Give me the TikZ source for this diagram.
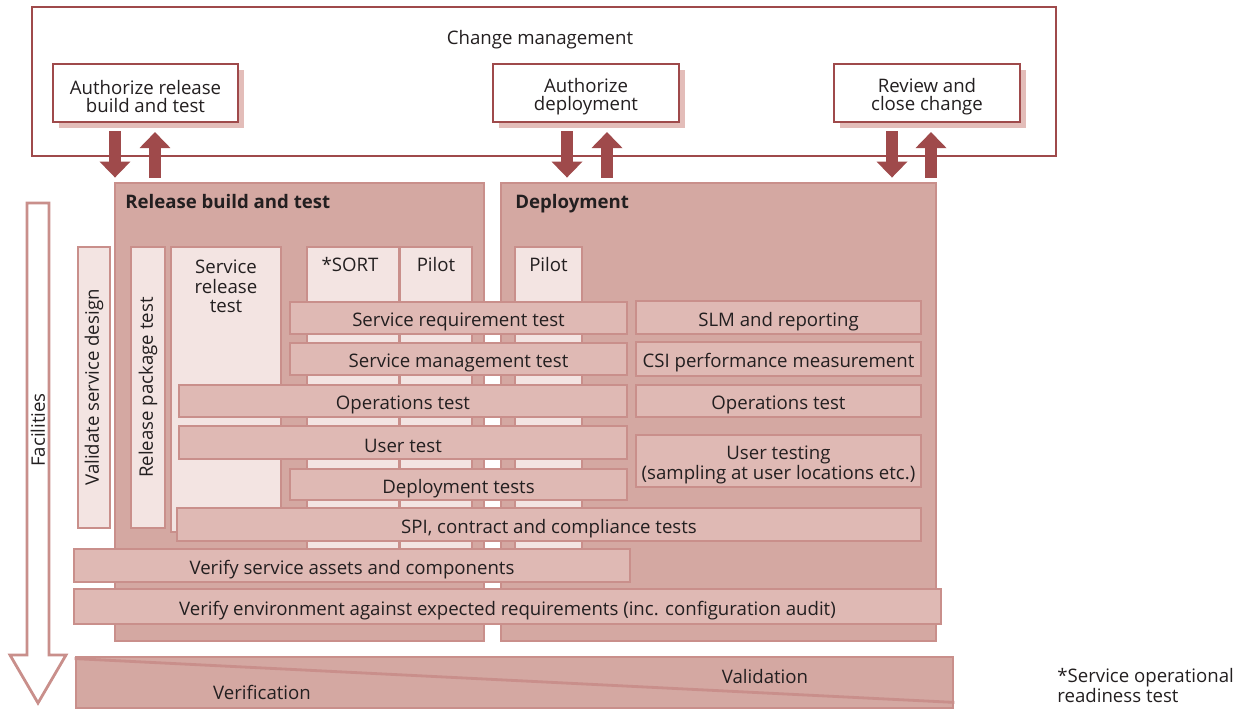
\documentclass[tikz,border=0pt]{standalone}
\usepackage{fontspec}
\setmainfont{Open Sans}
\usetikzlibrary{arrows.meta,calc,fit,shadows}
\definecolor{cmred}{HTML}{9F4A4B}
\definecolor{boxpink}{HTML}{D4A8A2}
\definecolor{edgepink}{HTML}{C98F8B}
\definecolor{barpink}{HTML}{DFB9B4}
\definecolor{lightpink}{HTML}{F3E4E2}
\definecolor{shadepink}{HTML}{E3BDB9}
\definecolor{inkgray}{HTML}{231F20}
\tikzset{
  every node/.style={font=\fontsize{10.6}{10.4}\selectfont, text=inkgray, inner sep=0pt},
  every label/.style={align=center, yshift=-0.075cm},
  changebox/.style={draw=cmred, line width=1.2pt, fill=white},
  stepbox/.style={draw=cmred, line width=1.2pt, fill=white,
    drop shadow={shadow xshift=0.11cm, shadow yshift=-0.13cm, fill=shadepink, opacity=1}},
  phasebox/.style={draw=edgepink, line width=1.6pt, fill=boxpink},
  column/.style={draw=edgepink, line width=1.6pt, fill=lightpink},
  testbar/.style={draw=edgepink, line width=1.6pt, fill=barpink},
  heading/.style={font=\fontsize{10.6}{10.4}\selectfont\bfseries, anchor=base west},
  bigarrow/.style={draw=cmred, line width=0.24cm, -{Triangle[width=0.6cm,length=0.32cm]}},
  facarrow/.style={draw=edgepink, line width=1.6pt, fill=white, line join=miter},
}

\begin{document}
\begin{tikzpicture}[x=0.02cm, y=-0.02cm]
\useasboundingbox (0,0) rectangle (1239,709);

% change management
\node[changebox, fit={(32,7) (1056,156)}] (cm) {};
\node[anchor=base] (cmtitle) at (540,45) {Change management};
\node[stepbox, fit={(53,64) (238,122)}, label=center:{Authorize release\\build and test}] (arbt) {};
\node[stepbox, fit={(493,64) (679,122)}, label=center:{Authorize\\deployment}] (adep) {};
\node[stepbox, fit={(834,64) (1020,122)}, label=center:{Review and\\close change}] (rcc) {};

% facilities
\draw[facarrow] (27,203) -- (49,203) -- (49,655) -- (66,655) -- (38,703) -- (10,655) -- (27,655) -- cycle;
\node[rotate=90] (fac) at (38,430) {Facilities};

% phases
\node[phasebox, fit={(115,183) (484,641)}] (rbt) {};
\node[phasebox, fit={(501,183) (936,641)}] (dep) {};
\node[heading] (rbttitle) at (125,209) {Release build and test};
\node[heading] (deptitle) at (515,209) {Deployment};

% arrows to and from change management
\draw[bigarrow] ($(arbt.south -| 115,0)+(0,8)$) -- ($(rbt.north -| 115,0)+(0,-4)$);
\draw[bigarrow] ($(rbt.north -| 155,0)+(0,-4)$) -- ($(arbt.south -| 155,0)+(0,9)$);
\draw[bigarrow] ($(adep.south -| 567,0)+(0,8)$) -- ($(dep.north -| 567,0)+(0,-4)$);
\draw[bigarrow] ($(dep.north -| 607,0)+(0,-4)$) -- ($(adep.south -| 607,0)+(0,9)$);
\draw[bigarrow] ($(rcc.south -| 892,0)+(0,8)$) -- ($(dep.north -| 892,0)+(0,-4)$);
\draw[bigarrow] ($(dep.north -| 931,0)+(0,-4)$) -- ($(rcc.south -| 931,0)+(0,9)$);

% columns
\node[column, fit={(78,247) (110,528)}] (vsd) {};
\node[rotate=90] (vsdtext) at (vsd.center) {Validate service design};
\node[column, fit={(131,247) (165,528)}] (rpt) {};
\node[rotate=90] (rpttext) at (rpt.center) {Release package test};
\node[column, fit={(171,247) (281,532)}] (srel) {};
\node[anchor=north, align=center, font=\fontsize{10.6}{11.2}\selectfont] (sreltext) at ($(srel.north)+(0,14)$) {Service\\release\\test};
\node[column, fit={(307,247) (399,555)}] (sort) {};
\node (sorttext) at ($(sort.north)+(-3,19)$) {*SORT};
\node[column, fit={(400,247) (472,555)}] (pilotb) {};
\node (pilotbtext) at ($(pilotb.north)+(0,19)$) {Pilot};
\node[column, fit={(515,247) (582,555)}] (pilotd) {};
\node (pilotdtext) at ($(pilotd.north)+(0,19)$) {Pilot};

% test bars
\node[testbar, fit={(290,302) (627,334)}, label=center:{Service requirement test}] (sreq) {};
\node[testbar, fit={(290,343) (627,375)}, label=center:{Service management test}] (smgt) {};
\node[testbar, fit={(179,385) (627,417)}, label=center:{Operations test}] (opsb) {};
\node[testbar, fit={(179,426) (627,459)}, label=center:{User test}] (usert) {};
\node[testbar, fit={(290,469) (627,500)}, label=center:{Deployment tests}] (dept) {};
\node[testbar, fit={(636,301) (921,334)}, label=center:{SLM and reporting}] (slm) {};
\node[testbar, fit={(636,342) (921,376)}, label=center:{CSI performance measurement}] (csi) {};
\node[testbar, fit={(636,385) (921,417)}, label=center:{Operations test}] (opsd) {};
\node[testbar, fit={(636,435) (921,487)}, label=center:{User testing\\(sampling at user locations etc.)}] (usting) {};
\node[testbar, fit={(177,508) (921,541)}, label=center:{SPI, contract and compliance tests}] (spi) {};
\node[testbar, fit={(74,549) (630,582)}, label=center:{Verify service assets and components}] (vsa) {};
\node[testbar, fit={(74,589) (941,624)}, label=center:{Verify environment against expected requirements (inc. configuration audit)}] (venv) {};

% verification and validation
\node[phasebox, fit={(76,657) (953,708)}] (vv) {};
\draw[draw=edgepink, line width=1.6pt] ($(vv.north west)+(0,3)$) -- ($(vv.south east)+(0,-7)$);
\node (valid) at (765,677) {Validation};
\node (verif) at (262,692) {Verification};

\node[anchor=north west, align=left] (note) at (1057,668) {*Service operational\\readiness test};
\end{tikzpicture}
\end{document}
